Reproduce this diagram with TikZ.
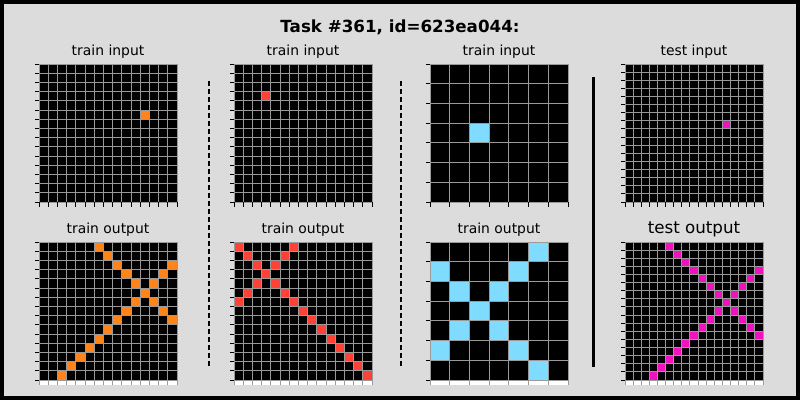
\documentclass[tikz,border=0pt]{standalone}
\usepackage{fontspec}
\setmainfont{DejaVu Sans}
\definecolor{bgray}{HTML}{DCDCDC}
\definecolor{gline}{HTML}{9A9A9A}
\definecolor{arcorange}{HTML}{FF851B}
\definecolor{arcred}{HTML}{FF4136}
\definecolor{arcblue}{HTML}{7FDBFF}
\definecolor{arcmag}{HTML}{F012BE}
\tikzset{
  gridline/.style={draw=gline, line width=1pt},
  tickline/.style={draw=black, line width=1pt},
  sublabel/.style={font=\fontsize{13.9}{16}\selectfont, anchor=center},
  seplinedash/.style={draw=black, line width=1.3pt, dash pattern=on 5.3pt off 2.7pt},
  seplinesolid/.style={draw=black, line width=3pt}
}
\newcommand\arcgrid[5]{%
  \pgfmathsetmacro\cs{138/#3}
  \fill[black] (#1,#2) rectangle ++(138,138);
  \foreach \r/\c in {#5} {\fill[#4] ({#1+\c*\cs},{#2+\r*\cs}) rectangle ++(\cs,\cs);}
  \foreach \k in {0,...,#3} {
    \draw[gridline] ({#1+\k*\cs},#2) -- ++(0,138);
    \draw[gridline] (#1,{#2+\k*\cs}) -- ++(138,0);
    \draw[tickline] (#1,{#2+\k*\cs}) -- ++(-4.5,0);
  }
}
\newcommand\topticks[3]{%
  \pgfmathsetmacro\cs{138/#3}
  \foreach \k in {0,...,#3} {\draw[tickline] ({#1+\k*\cs},{#2+138}) -- ++(0,4.5);}
}
\newcommand\bottomticks[3]{%
  \pgfmathsetmacro\cs{138/#3}
  \fill[white] (#1,{#2+138.5}) rectangle ++(138,4);
  \foreach \k in {0,...,#3} {\draw[draw=gline, line width=1pt] ({#1+\k*\cs},{#2+138}) -- ++(0,4.5);}
}
\begin{document}
\begin{tikzpicture}[x=1pt,y=-1pt]
\useasboundingbox (0,0) rectangle (800,400);
\fill[black] (0,0) rectangle (800,400);
\fill[bgray] (4,4) rectangle (796,396);
\node[font=\fontsize{16.7}{20}\selectfont\bfseries] (title) at (400,27) {Task \#361, id=623ea044:};
% labels
\node[sublabel] (l1) at (108,52) {train input};
\node[sublabel] (l2) at (303,52) {train input};
\node[sublabel] (l3) at (499,52) {train input};
\node[sublabel] (l4) at (694,52) {test input};
\node[sublabel] (l5) at (108,230) {train output};
\node[sublabel] (l6) at (303,230) {train output};
\node[sublabel] (l7) at (499,230) {train output};
\node[sublabel, font=\fontsize{16.7}{20}\selectfont] (l8) at (694,229) {test output};
% top grids
\arcgrid{39}{64}{15}{arcorange}{5/11}
\topticks{39}{64}{15}
\arcgrid{234}{64}{15}{arcred}{3/3}
\topticks{234}{64}{15}
\arcgrid{430}{64}{7}{arcblue}{3/2}
\topticks{430}{64}{7}
\arcgrid{625}{64}{17}{arcmag}{7/12}
\topticks{625}{64}{17}
% bottom grids
\arcgrid{39}{242}{15}{arcorange}{0/6,1/7,2/8,3/9,4/10,5/11,6/12,7/13,8/14,2/14,3/13,4/12,6/10,7/9,8/8,9/7,10/6,11/5,12/4,13/3,14/2}
\bottomticks{39}{242}{15}
\arcgrid{234}{242}{15}{arcred}{0/0,1/1,2/2,3/3,4/4,5/5,6/6,7/7,8/8,9/9,10/10,11/11,12/12,13/13,14/14,0/6,1/5,2/4,4/2,5/1,6/0}
\bottomticks{234}{242}{15}
\arcgrid{430}{242}{7}{arcblue}{1/0,2/1,3/2,4/3,5/4,6/5,0/5,1/4,2/3,4/1,5/0}
\bottomticks{430}{242}{7}
\arcgrid{625}{242}{17}{arcmag}{0/5,1/6,2/7,3/8,4/9,5/10,6/11,7/12,8/13,9/14,10/15,11/16,3/16,4/15,5/14,6/13,8/11,9/10,10/9,11/8,12/7,13/6,14/5,15/4,16/3}
\bottomticks{625}{242}{17}
% separators
\coordinate (s1a) at (209,81); \coordinate (s1b) at (209,366);
\coordinate (s2a) at (401,81); \coordinate (s2b) at (401,366);
\coordinate (s3a) at (593,77); \coordinate (s3b) at (593,367);
\draw[seplinedash] (s1a) -- (s1b);
\draw[seplinedash] (s2a) -- (s2b);
\draw[seplinesolid] (s3a) -- (s3b);
\end{tikzpicture}
\end{document}
